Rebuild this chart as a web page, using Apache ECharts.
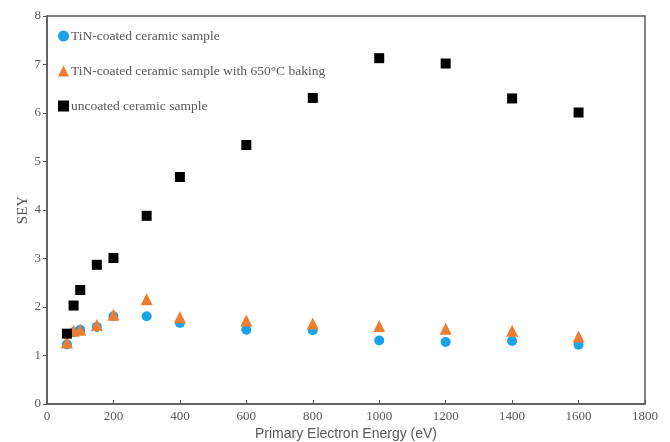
<!DOCTYPE html>
<html>
<head>
<meta charset="utf-8">
<script src="https://cdn.jsdelivr.net/npm/echarts@6/dist/echarts.min.js"></script>
<style>
  html, body { margin: 0; padding: 0; background: #fff; }
  #chart { width: 670px; height: 442px; }
</style>
</head>
<body>
<div id="chart"></div>
<script>
// Primary electron energies (eV)
const energy = [60, 80, 100, 150, 200, 300, 400, 600, 800, 1000, 1200, 1400, 1600];

// Secondary electron yield for each sample
const tinCoated = [1.23, 1.48, 1.53, 1.59, 1.81, 1.81, 1.67, 1.53, 1.52, 1.31, 1.28, 1.30, 1.22];
const tinBaked = [1.27, 1.51, 1.53, 1.63, 1.84, 2.16, 1.79, 1.72, 1.66, 1.61, 1.55, 1.51, 1.39];
const uncoated = [1.45, 2.03, 2.35, 2.87, 3.01, 3.88, 4.68, 5.34, 6.31, 7.13, 7.02, 6.30, 6.01];

const seriesNames = [
  'TiN-coated ceramic sample',
  'TiN-coated ceramic sample with 650\u00B0C baking',
  'uncoated ceramic sample'
];

const pairs = ys => energy.map((x, i) => [x, ys[i]]);

const serif = '"Liberation Serif", "DejaVu Serif", serif';
const axisGray = '#595959';

const chart = echarts.init(document.getElementById('chart'));
chart.setOption({
  animation: false,
  backgroundColor: '#fff',
  grid: {
    left: 47, right: 25, top: 16, bottom: 38,
    outerBoundsMode: 'none',
    containLabel: false,
    show: true, borderColor: axisGray, borderWidth: 1.5
  },
  legend: {
    orient: 'vertical',
    left: 53,
    top: 24,
    itemGap: 21,
    itemWidth: 11,
    itemHeight: 11,
    textStyle: { fontFamily: serif, fontSize: 13.5, color: axisGray, padding: [0, 0, 0, -3] },
    data: [
      { name: seriesNames[0], icon: 'circle' },
      { name: seriesNames[1], icon: 'triangle' },
      { name: seriesNames[2], icon: 'rect' }
    ]
  },
  xAxis: {
    type: 'value',
    min: 0, max: 1800, interval: 200,
    name: 'Primary Electron Energy (eV)',
    nameLocation: 'middle',
    nameGap: 23,
    nameMoveOverlap: false,
    nameTextStyle: { fontFamily: '"Liberation Sans Narrow", "Liberation Sans", sans-serif', fontSize: 14, color: axisGray },
    axisLine: { show: true, onZero: false, lineStyle: { color: axisGray, width: 1.5 } },
    axisTick: { show: true, inside: true, length: 4, lineStyle: { color: axisGray } },
    axisLabel: { fontFamily: serif, fontSize: 13, color: axisGray, margin: 6, formatter: v => String(v) },
    splitLine: { show: false }
  },
  yAxis: {
    type: 'value',
    min: 0, max: 8, interval: 1,
    name: 'SEY',
    nameLocation: 'middle',
    nameGap: 16,
    nameMoveOverlap: false,
    nameTextStyle: { fontFamily: serif, fontSize: 15, color: axisGray },
    axisLine: { show: true, lineStyle: { color: axisGray, width: 1.5 } },
    axisTick: { show: true, length: 4, lineStyle: { color: axisGray } },
    axisLabel: { fontFamily: serif, fontSize: 13, color: axisGray, margin: 6 },
    splitLine: { show: false }
  },
  series: [
    {
      name: seriesNames[0], type: 'scatter', symbol: 'circle', symbolSize: 10,
      itemStyle: { color: '#1AA3E8', opacity: 1 }, data: pairs(tinCoated), z: 2
    },
    {
      name: seriesNames[1], type: 'scatter', symbol: 'triangle', symbolSize: 12,
      itemStyle: { color: '#ED7D31', opacity: 1 }, data: pairs(tinBaked), z: 3
    },
    {
      name: seriesNames[2], type: 'scatter', symbol: 'rect', symbolSize: 10,
      itemStyle: { color: '#000000', opacity: 1 }, data: pairs(uncoated), z: 4
    }
  ]
});
</script>
</body>
</html>
